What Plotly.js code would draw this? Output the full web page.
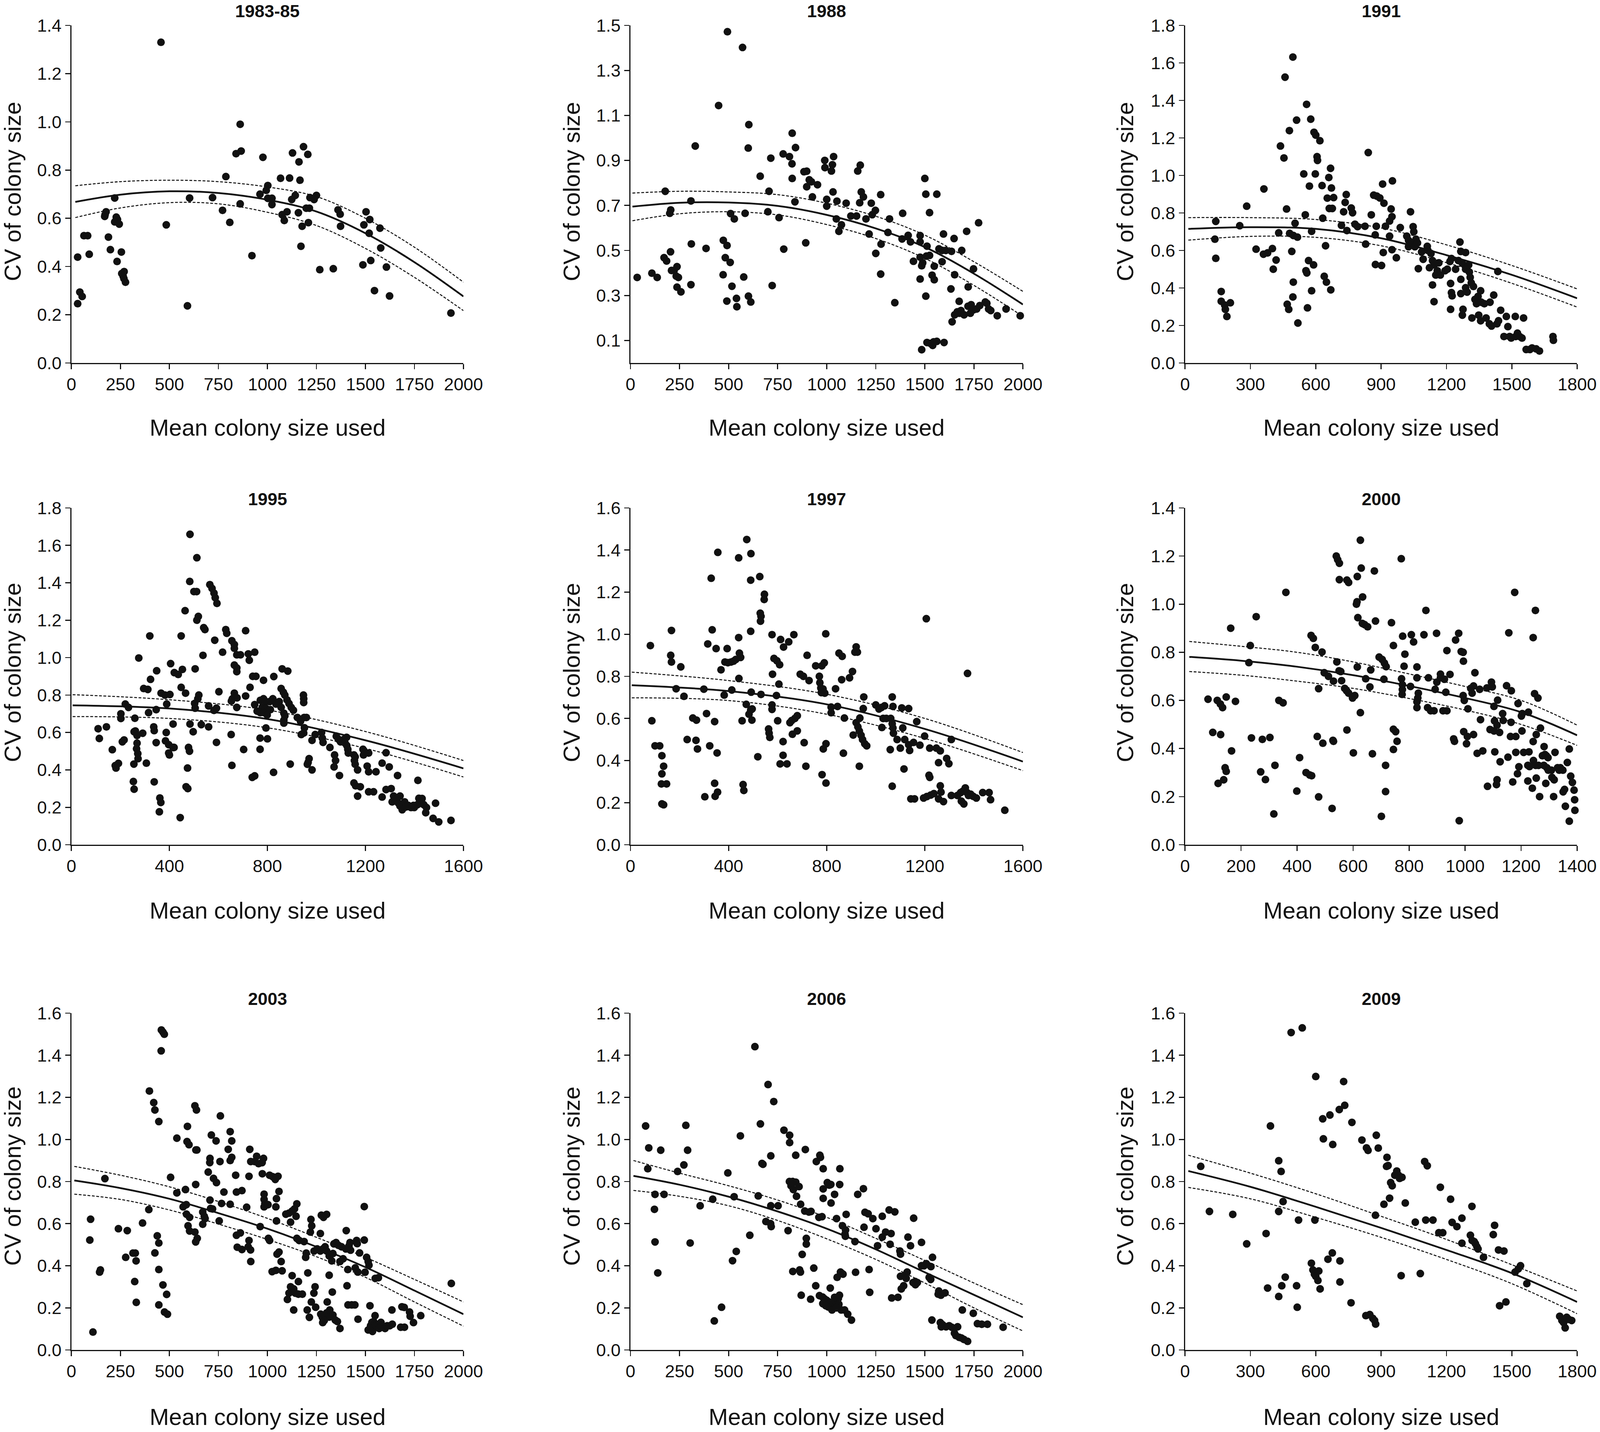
<!DOCTYPE html>
<html>
<head>
<meta charset="utf-8">
<script src="https://cdn.plot.ly/plotly-3.0.1.min.js"></script>
<style>
  html, body { margin: 0; padding: 0; background: #fff; overflow: hidden; }
</style>
</head>
<body>
<div id="graph"></div>
<script>
// CV of colony size vs mean colony size, one panel per survey year.

const years = ["1983-85", "1988", "1991", "1995", "1997", "2000", "2003", "2006", "2009"];

// ---- 1983-85 ----
const x1983 = [457,861,840,866,977,788,1184,1206,1128,1161,1166,1067,1113,1002,994,962,1002,1023,1023,1142,1124,1217,1250,1238,1198,1214,1158,1100,1075,1086,1177,1209,1171,861,771,808,720,603,484,592,921,1360,1371,1373,1267,1336,1503,1522,1492,1519,1574,1578,1487,1527,1607,1546,1623,1936,221,172,177,170,189,199,229,235,221,244,255,233,257,269,264,276,268,64,83,32,91,43,55,32];
const cv1983 = [1.33,0.99,0.868,0.879,0.853,0.773,0.897,0.865,0.871,0.834,0.758,0.766,0.767,0.736,0.716,0.70,0.683,0.683,0.657,0.695,0.678,0.686,0.695,0.678,0.642,0.642,0.623,0.627,0.615,0.591,0.567,0.582,0.484,0.66,0.633,0.583,0.686,0.684,0.573,0.237,0.445,0.635,0.617,0.567,0.387,0.391,0.627,0.595,0.573,0.538,0.559,0.477,0.407,0.425,0.398,0.30,0.278,0.207,0.684,0.615,0.627,0.608,0.522,0.47,0.605,0.595,0.585,0.576,0.46,0.421,0.371,0.379,0.36,0.335,0.35,0.528,0.528,0.439,0.451,0.294,0.276,0.246];
const fitX1983 = [20,250,500,750,1000,1250,1500,1750,2000];
const fitMid1983 = [0.668,0.698,0.712,0.705,0.677,0.628,0.538,0.418,0.276];
const fitUp1983 = [0.735,0.752,0.758,0.752,0.73,0.69,0.60,0.48,0.335];
const fitLo1983 = [0.603,0.643,0.665,0.66,0.625,0.57,0.475,0.355,0.217];

// ---- 1988 ----
const x1988 = [494,571,449,603,600,330,824,841,778,810,823,715,661,824,884,898,911,922,953,898,927,838,706,700,757,584,510,529,308,177,205,200,34,109,136,171,184,204,209,222,237,233,244,237,257,308,310,385,473,492,483,508,472,517,491,540,542,577,601,613,722,781,893,991,990,1029,1024,1035,1032,1000,1000,1052,1099,1049,1075,1062,1158,1171,1168,1176,1187,1123,1152,1200,1227,1248,1232,1275,1216,1320,1312,1277,1250,1275,1347,1387,1384,1415,1427,1442,1476,1476,1500,1505,1524,1561,1511,1476,1489,1484,1508,1524,1476,1505,1548,1537,1548,1572,1588,1607,1595,1588,1636,1649,1652,1633,1688,1713,1721,1748,1774,1675,1639,1652,1665,1684,1700,1720,1736,1748,1764,1780,1732,1676,1808,1816,1825,1836,1869,1914,1986,1484,1511,1529,1540,1561,1545,1598];
const cv1988 = [1.472,1.402,1.144,1.059,0.955,0.964,1.021,0.957,0.929,0.917,0.885,0.91,0.83,0.82,0.85,0.852,0.814,0.805,0.792,0.783,0.738,0.716,0.763,0.672,0.646,0.665,0.664,0.64,0.72,0.763,0.68,0.665,0.38,0.399,0.38,0.468,0.453,0.494,0.411,0.411,0.428,0.386,0.38,0.337,0.316,0.348,0.529,0.509,0.545,0.522,0.468,0.447,0.392,0.341,0.275,0.287,0.25,0.382,0.297,0.271,0.344,0.506,0.534,0.868,0.9,0.881,0.853,0.917,0.76,0.727,0.697,0.719,0.71,0.64,0.614,0.585,0.853,0.879,0.712,0.76,0.738,0.653,0.653,0.64,0.71,0.678,0.659,0.748,0.573,0.64,0.58,0.528,0.487,0.395,0.268,0.665,0.551,0.567,0.538,0.452,0.566,0.538,0.82,0.75,0.668,0.75,0.519,0.47,0.445,0.432,0.475,0.478,0.373,0.297,0.43,0.39,0.37,0.507,0.5,0.5,0.573,0.45,0.496,0.553,0.392,0.329,0.5,0.585,0.338,0.418,0.623,0.274,0.183,0.214,0.227,0.233,0.214,0.252,0.259,0.236,0.24,0.255,0.221,0.221,0.271,0.265,0.24,0.233,0.21,0.24,0.21,0.059,0.091,0.087,0.078,0.096,0.094,0.091];
const fitX1988 = [10,250,500,750,1000,1250,1500,1750,2000];
const fitMid1988 = [0.695,0.712,0.713,0.698,0.658,0.598,0.515,0.397,0.26];
const fitUp1988 = [0.755,0.763,0.76,0.748,0.71,0.652,0.568,0.45,0.318];
const fitLo1988 = [0.632,0.663,0.672,0.658,0.615,0.553,0.465,0.345,0.207];

// ---- 1991 ----
const x1991 = [495,459,558,512,577,479,592,600,619,438,454,841,606,608,668,545,598,660,571,629,672,907,952,362,283,653,682,662,676,740,735,728,763,769,866,880,894,913,466,552,855,946,950,939,1035,141,251,505,632,718,743,780,792,826,878,920,988,1047,1050,430,480,497,516,581,137,939,1018,1026,1026,1037,1055,1060,1067,829,873,645,141,326,360,379,401,418,405,490,910,950,970,555,559,567,590,497,639,649,669,581,495,469,476,562,518,166,166,182,185,192,208,874,902,1086,1093,1071,1112,1115,1129,1136,1143,1122,1136,1143,1158,1165,1151,1172,1194,1204,1216,1223,1219,1223,1226,1219,1242,1262,1266,1255,1273,1288,1266,1266,1276,1273,1288,1295,1302,1305,1309,1314,1288,1317,1324,1331,1338,1345,1357,1360,1348,1357,1374,1400,1417,1382,1397,1407,1436,1432,1439,1449,1464,1475,1482,1490,1497,1516,1518,1526,1536,1547,1554,1566,1583,1593,1612,1627,1689,1691];
const cv1991 = [1.631,1.524,1.379,1.295,1.30,1.239,1.23,1.215,1.185,1.157,1.093,1.122,1.10,1.08,1.038,1.008,1.008,0.989,0.943,0.946,0.933,0.954,0.971,0.928,0.836,0.879,0.882,0.824,0.824,0.898,0.856,0.806,0.826,0.801,0.895,0.89,0.88,0.852,0.821,0.79,0.79,0.821,0.78,0.757,0.806,0.755,0.732,0.745,0.772,0.734,0.706,0.74,0.727,0.729,0.729,0.729,0.722,0.727,0.70,0.694,0.691,0.68,0.671,0.702,0.66,0.676,0.676,0.654,0.62,0.64,0.62,0.66,0.64,0.634,0.683,0.625,0.558,0.607,0.58,0.587,0.61,0.549,0.50,0.595,0.589,0.604,0.561,0.492,0.48,0.546,0.523,0.431,0.462,0.431,0.39,0.385,0.352,0.313,0.286,0.294,0.213,0.381,0.329,0.309,0.286,0.248,0.321,0.525,0.52,0.592,0.553,0.503,0.622,0.60,0.584,0.546,0.523,0.508,0.416,0.327,0.492,0.534,0.469,0.469,0.492,0.50,0.541,0.557,0.424,0.375,0.358,0.286,0.50,0.645,0.595,0.546,0.531,0.589,0.446,0.37,0.286,0.255,0.401,0.378,0.523,0.485,0.457,0.427,0.50,0.24,0.408,0.339,0.316,0.355,0.385,0.324,0.255,0.225,0.316,0.324,0.362,0.24,0.209,0.197,0.488,0.209,0.225,0.281,0.141,0.248,0.194,0.141,0.133,0.248,0.141,0.159,0.141,0.133,0.24,0.072,0.072,0.08,0.075,0.064,0.141,0.121];
const fitX1991 = [15,300,600,900,1200,1500,1800];
const fitMid1991 = [0.715,0.724,0.715,0.665,0.575,0.47,0.345];
const fitUp1991 = [0.775,0.775,0.765,0.72,0.63,0.52,0.395];
const fitLo1991 = [0.655,0.675,0.67,0.625,0.535,0.425,0.298];

// ---- 1995 ----
const x1995 = [484,512,483,500,511,565,574,582,587,594,464,518,512,540,545,448,320,585,630,634,655,665,665,711,617,537,748,722,690,675,665,675,675,726,275,405,420,436,453,505,348,323,740,753,826,860,883,784,295,312,448,466,520,516,503,505,602,729,665,657,676,711,653,366,382,402,389,346,315,220,233,202,202,560,592,582,675,748,771,784,794,809,822,835,779,794,797,812,758,771,786,799,856,865,871,880,888,897,906,848,856,867,871,867,867,947,948,948,950,959,922,935,951,948,938,215,208,109,114,143,167,179,192,182,259,256,261,268,268,266,271,272,291,255,253,256,306,336,338,346,338,361,365,359,387,384,397,397,400,415,419,415,444,478,482,474,468,475,484,497,530,560,592,652,655,703,738,748,770,770,800,794,825,893,970,966,963,982,982,995,1021,1024,1027,1055,1074,1078,1072,1094,1081,1089,1098,1114,1117,1123,1124,1128,1130,1153,1158,1155,1158,1168,1153,1160,1168,1179,1190,1197,1192,1213,1207,1213,1213,1233,1243,1268,1284,1297,1268,1284,1305,1309,1331,1315,1325,1335,1341,1350,1341,1360,1366,1386,1399,1412,1425,1438,1449,1418,1431,1396,1375,1414,1446,1476,1486,1499,1549];
const cv1995 = [1.659,1.534,1.407,1.353,1.353,1.39,1.37,1.345,1.32,1.29,1.251,1.22,1.20,1.16,1.15,1.116,1.116,1.093,1.15,1.13,1.09,1.07,1.05,1.144,1.029,1.012,1.029,1.02,1.015,1.015,0.96,0.945,0.925,0.986,0.998,0.968,0.92,0.91,0.937,0.94,0.93,0.884,0.90,0.90,0.899,0.94,0.928,0.879,0.835,0.83,0.841,0.81,0.8,0.78,0.755,0.73,0.818,0.841,0.81,0.78,0.785,0.795,0.768,0.81,0.80,0.803,0.752,0.722,0.706,0.752,0.734,0.70,0.675,0.742,0.73,0.718,0.734,0.749,0.772,0.78,0.765,0.765,0.78,0.752,0.735,0.728,0.714,0.722,0.714,0.706,0.706,0.694,0.835,0.815,0.8,0.774,0.755,0.734,0.719,0.765,0.734,0.703,0.688,0.665,0.65,0.80,0.78,0.76,0.68,0.68,0.68,0.66,0.625,0.597,0.589,0.56,0.55,0.62,0.568,0.63,0.508,0.423,0.435,0.41,0.676,0.604,0.608,0.584,0.543,0.513,0.487,0.46,0.596,0.431,0.338,0.297,0.436,0.63,0.61,0.546,0.336,0.25,0.226,0.176,0.60,0.555,0.535,0.49,0.48,0.52,0.52,0.645,0.145,0.52,0.50,0.41,0.31,0.30,0.645,0.604,0.642,0.63,0.547,0.589,0.424,0.509,0.36,0.368,0.57,0.51,0.566,0.624,0.387,0.431,0.46,0.44,0.43,0.40,0.558,0.589,0.60,0.57,0.547,0.52,0.48,0.45,0.416,0.37,0.58,0.565,0.55,0.565,0.543,0.574,0.53,0.51,0.49,0.48,0.47,0.45,0.43,0.40,0.33,0.315,0.26,0.31,0.51,0.497,0.48,0.49,0.42,0.39,0.283,0.283,0.39,0.436,0.492,0.416,0.255,0.295,0.30,0.229,0.37,0.26,0.245,0.222,0.207,0.187,0.26,0.229,0.202,0.199,0.199,0.214,0.222,0.214,0.199,0.248,0.247,0.21,0.21,0.344,0.171,0.141,0.222,0.122,0.13];
const fitX1995 = [5,400,800,1200,1600];
const fitMid1995 = [0.745,0.728,0.672,0.558,0.408];
const fitUp1995 = [0.802,0.775,0.72,0.605,0.45];
const fitLo1995 = [0.685,0.675,0.625,0.515,0.362];

// ---- 1997 ----
const x1997 = [474,356,441,491,329,490,527,546,545,529,532,530,167,333,490,81,315,349,394,441,444,449,577,612,624,666,645,796,1206,164,167,205,385,397,410,420,429,369,585,597,608,579,720,442,605,692,705,728,755,780,790,770,772,776,778,785,792,850,863,915,920,925,905,893,861,836,186,218,299,382,413,492,532,595,577,577,87,100,119,128,128,135,126,147,128,135,254,269,231,267,273,310,343,323,353,303,343,355,345,455,472,483,490,496,495,459,462,519,563,565,568,600,622,622,610,638,650,657,670,680,660,680,708,715,786,797,781,797,818,818,844,872,868,908,920,927,933,940,946,955,963,933,935,951,949,1000,1013,1023,1036,1030,1043,1025,1067,1070,1061,1067,1070,1072,1059,1067,1087,1100,1106,1134,1110,1115,1118,1134,1138,1154,1167,1180,1199,1217,1220,1220,1247,1263,1256,1308,1289,1298,1263,1266,1143,1158,1195,1208,1224,1237,1256,1276,1308,1333,1346,1356,1365,1372,1359,1349,1378,1387,1397,1410,1374,1436,1462,1468,1526];
const cv1997 = [1.45,1.389,1.363,1.383,1.266,1.257,1.274,1.19,1.165,1.10,1.085,1.062,1.018,1.021,1.014,0.946,0.954,0.932,0.932,0.984,0.91,0.89,0.998,0.975,0.939,0.998,0.964,1.002,1.074,0.90,0.868,0.845,0.868,0.865,0.868,0.872,0.88,0.831,0.885,0.874,0.855,0.81,0.90,0.79,0.763,0.81,0.80,0.78,0.85,0.85,0.864,0.80,0.77,0.745,0.723,0.74,0.72,0.91,0.895,0.915,0.94,0.915,0.823,0.793,0.784,0.741,0.741,0.705,0.739,0.711,0.735,0.725,0.714,0.709,0.664,0.643,0.589,0.47,0.47,0.423,0.337,0.373,0.289,0.289,0.194,0.19,0.602,0.592,0.50,0.496,0.455,0.623,0.585,0.47,0.436,0.228,0.292,0.25,0.23,0.589,0.667,0.62,0.64,0.645,0.592,0.286,0.258,0.418,0.55,0.53,0.51,0.589,0.49,0.425,0.384,0.384,0.58,0.59,0.60,0.613,0.525,0.541,0.485,0.373,0.455,0.48,0.333,0.293,0.654,0.627,0.657,0.602,0.435,0.521,0.58,0.56,0.54,0.52,0.50,0.48,0.47,0.373,0.602,0.702,0.647,0.664,0.645,0.652,0.66,0.60,0.60,0.557,0.702,0.657,0.60,0.575,0.555,0.53,0.452,0.278,0.50,0.459,0.65,0.647,0.555,0.36,0.50,0.475,0.448,0.486,0.585,0.473,0.516,0.33,0.32,0.459,0.459,0.446,0.39,0.50,0.41,0.385,0.28,0.25,0.218,0.218,0.222,0.229,0.236,0.243,0.218,0.205,0.234,0.234,0.248,0.255,0.27,0.248,0.194,0.207,0.234,0.24,0.23,0.222,0.814,0.248,0.248,0.214,0.164];
const fitX1997 = [5,400,800,1200,1600];
const fitMid1997 = [0.758,0.73,0.667,0.55,0.395];
const fitUp1997 = [0.82,0.78,0.715,0.6,0.438];
const fitLo1997 = [0.698,0.685,0.62,0.505,0.352];

// ---- 2000 ----
const x2000 = [626,540,545,551,772,615,629,676,551,578,584,360,1177,612,614,634,860,1251,617,633,641,652,680,737,254,163,450,458,465,489,233,777,808,816,853,898,977,966,986,993,935,994,1156,1243,744,785,228,542,615,693,704,712,718,663,782,828,1035,912,497,512,530,550,556,559,570,577,584,477,598,606,660,645,710,773,776,776,775,805,828,833,831,828,828,869,866,877,889,893,899,912,926,931,921,935,946,993,997,1010,1020,1025,1030,1052,1055,1078,1094,1097,1116,1103,1105,1114,1089,1103,1123,1134,1148,1165,1136,1162,1164,1189,1201,1203,1204,1226,1260,1248,1243,1254,1269,1228,1224,1230,1244,1252,1262,1276,1285,1281,1292,1297,1308,1282,1290,1296,1310,1318,1321,1330,1336,1340,1349,1365,1372,1377,1383,1389,1391,1392,1372,1358,1355,1350,1316,1288,1266,1254,1240,1224,1192,1181,1170,1187,1114,1112,1080,1106,1125,1063,1043,959,962,995,1008,1005,1030,979,1153,1181,1209,82,115,126,134,147,180,99,127,166,118,138,143,147,237,276,303,270,287,317,321,335,350,399,409,432,445,452,472,492,477,525,528,530,578,601,626,669,701,716,716,744,752,757,744];
const cv2000 = [1.266,1.20,1.185,1.17,1.189,1.115,1.15,1.138,1.102,1.10,1.09,1.049,1.049,1.00,1.01,1.03,0.974,0.974,0.944,0.92,0.915,0.906,0.93,0.923,0.948,0.90,0.87,0.858,0.82,0.801,0.828,0.867,0.873,0.843,0.873,0.879,0.879,0.851,0.803,0.80,0.807,0.763,0.881,0.861,0.828,0.792,0.757,0.76,0.739,0.78,0.77,0.755,0.74,0.727,0.742,0.739,0.715,0.709,0.715,0.70,0.68,0.723,0.72,0.682,0.65,0.64,0.63,0.649,0.61,0.62,0.656,0.69,0.688,0.69,0.665,0.645,0.625,0.658,0.694,0.63,0.61,0.594,0.57,0.694,0.57,0.557,0.557,0.646,0.676,0.694,0.688,0.634,0.557,0.557,0.708,0.62,0.60,0.565,0.65,0.63,0.66,0.646,0.52,0.652,0.676,0.656,0.601,0.575,0.515,0.497,0.479,0.473,0.467,0.545,0.661,0.64,0.517,0.45,0.509,0.587,0.535,0.473,0.545,0.551,0.61,0.628,0.429,0.458,0.485,0.386,0.33,0.325,0.35,0.33,0.33,0.37,0.375,0.33,0.32,0.31,0.31,0.408,0.37,0.362,0.28,0.27,0.384,0.32,0.31,0.32,0.31,0.342,0.398,0.285,0.259,0.227,0.187,0.143,0.098,0.16,0.23,0.22,0.20,0.255,0.20,0.277,0.235,0.265,0.324,0.384,0.261,0.295,0.27,0.25,0.243,0.386,0.345,0.39,0.38,0.44,0.43,0.47,0.45,0.42,0.458,0.10,0.364,0.45,0.384,0.605,0.60,0.585,0.57,0.614,0.596,0.467,0.458,0.39,0.255,0.27,0.32,0.305,0.444,0.438,0.446,0.303,0.271,0.128,0.33,0.60,0.59,0.223,0.362,0.30,0.29,0.287,0.45,0.422,0.199,0.151,0.434,0.43,0.477,0.382,0.549,0.378,0.118,0.33,0.221,0.48,0.47,0.43,0.396];
const fitX2000 = [15,200,400,600,800,1000,1200,1400];
const fitMid2000 = [0.781,0.765,0.74,0.705,0.66,0.61,0.551,0.455];
const fitUp2000 = [0.845,0.825,0.80,0.76,0.71,0.658,0.60,0.497];
const fitLo2000 = [0.72,0.705,0.68,0.65,0.608,0.56,0.50,0.413];

// ---- 2003 ----
const x2003 = [459,467,474,458,398,420,426,446,630,638,760,592,590,600,538,635,640,714,738,810,818,800,818,810,707,706,758,910,945,935,955,980,973,915,506,171,634,698,725,740,838,906,974,1011,1027,1040,1054,538,582,778,842,870,1059,1046,983,983,987,983,1000,1003,707,720,710,766,810,894,1043,1150,1126,1138,1110,1094,1146,1118,1046,570,586,587,603,595,603,630,642,634,670,678,682,670,754,395,363,240,285,277,314,326,330,323,331,98,94,144,148,110,438,446,426,446,446,467,486,475,490,842,862,846,870,906,902,914,915,963,1005,1011,1049,1059,1024,1043,1070,1075,1102,1110,1118,1134,1142,1158,1178,1126,1134,1158,1187,1150,1162,1198,1195,1219,1226,1222,1206,1203,1214,1224,1237,1243,1246,1272,1280,1238,1254,1270,1283,1294,1302,1270,1275,1286,1302,1315,1305,1318,1302,1315,1334,1346,1357,1290,1282,1315,1331,1339,1350,1362,1378,1328,1334,1370,1370,1386,1400,1416,1424,1421,1402,1410,1406,1411,1430,1446,1455,1458,1448,1461,1470,1462,1494,1494,1506,1514,1498,1518,1523,1550,1566,1514,1526,1533,1542,1549,1536,1552,1568,1579,1592,1600,1611,1624,1637,1570,1635,1680,1699,1686,1698,1725,1728,1745,1782,1938];
const cv2003 = [1.52,1.51,1.50,1.421,1.23,1.175,1.14,1.085,1.16,1.14,1.112,1.062,0.99,0.975,1.006,0.95,0.95,1.021,0.993,1.037,0.993,0.953,0.915,0.90,0.91,0.89,0.895,0.953,0.92,0.895,0.885,0.91,0.89,0.895,0.82,0.814,0.786,0.845,0.815,0.795,0.83,0.825,0.837,0.83,0.823,0.81,0.825,0.746,0.762,0.75,0.75,0.757,0.753,0.719,0.74,0.715,0.695,0.68,0.69,0.69,0.712,0.67,0.672,0.696,0.692,0.678,0.68,0.694,0.66,0.67,0.65,0.645,0.635,0.607,0.613,0.68,0.69,0.645,0.63,0.59,0.565,0.56,0.53,0.513,0.655,0.635,0.624,0.597,0.613,0.667,0.603,0.576,0.567,0.44,0.46,0.46,0.423,0.325,0.226,0.621,0.522,0.37,0.38,0.085,0.542,0.508,0.461,0.382,0.214,0.309,0.264,0.18,0.17,0.545,0.556,0.488,0.477,0.52,0.49,0.475,0.42,0.586,0.53,0.52,0.455,0.465,0.372,0.378,0.42,0.376,0.24,0.27,0.30,0.29,0.27,0.265,0.265,0.353,0.19,0.325,0.515,0.53,0.52,0.46,0.44,0.56,0.59,0.62,0.366,0.19,0.155,0.228,0.27,0.30,0.203,0.17,0.155,0.47,0.48,0.47,0.48,0.49,0.47,0.553,0.64,0.63,0.644,0.447,0.228,0.19,0.176,0.156,0.166,0.142,0.135,0.14,0.13,0.355,0.275,0.504,0.51,0.497,0.49,0.423,0.458,0.102,0.42,0.433,0.48,0.494,0.474,0.51,0.567,0.382,0.305,0.214,0.214,0.214,0.52,0.505,0.39,0.37,0.461,0.146,0.522,0.681,0.44,0.42,0.369,0.403,0.21,0.34,0.343,0.095,0.115,0.131,0.135,0.163,0.088,0.115,0.122,0.131,0.111,0.102,0.115,0.115,0.122,0.102,0.19,0.108,0.108,0.205,0.202,0.18,0.16,0.13,0.163,0.316];
const fitX2003 = [15,250,500,750,1000,1250,1500,1750,2000];
const fitMid2003 = [0.805,0.769,0.718,0.65,0.576,0.49,0.393,0.282,0.17];
const fitUp2003 = [0.872,0.83,0.775,0.705,0.625,0.535,0.44,0.335,0.228];
const fitLo2003 = [0.74,0.715,0.665,0.598,0.525,0.443,0.345,0.228,0.113];

// ---- 2006 ----
const x2006 = [634,701,730,662,77,282,782,811,811,560,93,154,291,715,842,891,965,968,947,670,675,272,88,982,1067,496,240,810,826,842,818,830,846,859,1003,1013,1021,982,982,1066,1040,1022,1158,1187,125,171,651,528,419,355,122,715,752,867,888,909,920,960,976,1050,1099,1195,1211,1235,1190,1251,1283,1318,1347,690,714,717,608,803,1080,1096,1093,1095,1300,1328,1283,1259,1323,1144,896,896,1376,1373,1414,1427,1443,1483,1483,1496,1507,1539,1531,1522,1530,1571,1582,1568,1603,1536,1579,1584,1590,1608,1624,1637,1651,1658,1667,1675,1686,1699,1718,1691,1747,1768,1790,1819,1899,1410,1398,1405,1376,1392,1380,1363,1331,1440,1451,1462,1452,1219,1216,1147,875,862,866,827,870,934,944,918,963,979,987,998,1008,1019,1030,1043,1008,1027,1046,1059,1062,1074,980,995,1050,1040,1065,1018,1070,1075,1083,1053,1091,1107,1126,304,427,464,520,539,125,139];
const cv2006 = [1.441,1.261,1.18,1.074,1.064,1.067,1.044,1.02,0.985,1.017,0.96,0.949,0.949,0.922,0.925,0.952,0.925,0.915,0.895,0.886,0.882,0.879,0.861,0.861,0.861,0.841,0.848,0.80,0.80,0.797,0.78,0.762,0.73,0.776,0.795,0.783,0.786,0.765,0.72,0.786,0.739,0.698,0.739,0.766,0.739,0.739,0.732,0.728,0.716,0.685,0.668,0.685,0.685,0.692,0.66,0.655,0.658,0.63,0.633,0.624,0.644,0.654,0.647,0.624,0.583,0.576,0.635,0.665,0.656,0.61,0.60,0.586,0.545,0.567,0.59,0.57,0.55,0.54,0.56,0.553,0.536,0.495,0.502,0.515,0.53,0.503,0.455,0.47,0.536,0.495,0.626,0.511,0.40,0.40,0.41,0.44,0.396,0.345,0.335,0.28,0.26,0.265,0.271,0.142,0.13,0.11,0.12,0.11,0.115,0.108,0.08,0.068,0.11,0.06,0.057,0.05,0.041,0.19,0.174,0.125,0.122,0.122,0.108,0.37,0.355,0.34,0.35,0.305,0.29,0.25,0.247,0.32,0.325,0.32,0.31,0.274,0.382,0.369,0.454,0.38,0.37,0.373,0.26,0.389,0.305,0.241,0.258,0.251,0.244,0.237,0.23,0.224,0.21,0.204,0.204,0.19,0.231,0.244,0.217,0.19,0.22,0.21,0.20,0.25,0.26,0.294,0.37,0.365,0.36,0.345,0.19,0.17,0.142,0.508,0.138,0.203,0.424,0.468,0.513,0.366];
const fitX2006 = [15,250,500,750,1000,1250,1500,1750,2000];
const fitMid2006 = [0.827,0.785,0.728,0.658,0.576,0.478,0.369,0.262,0.155];
const fitUp2006 = [0.9,0.84,0.78,0.712,0.63,0.53,0.425,0.318,0.215];
const fitLo2006 = [0.758,0.73,0.685,0.615,0.528,0.43,0.318,0.2,0.09];

// ---- 2009 ----
const x2009 = [538,487,600,728,733,708,665,632,766,392,635,678,878,812,833,840,887,72,430,441,927,925,932,944,951,963,972,980,985,996,1100,1112,1172,913,939,1011,1219,1317,112,219,430,450,521,596,874,1057,1105,1138,1165,1183,1226,1248,1271,1271,1310,1318,1327,1333,1340,1345,1370,1421,1415,1439,1464,372,283,379,430,444,460,512,515,580,587,594,600,610,614,620,656,676,711,711,762,830,848,862,870,875,992,1080,1444,1473,1515,1530,1540,1569,1720,1730,1738,1745,1752,1762,1775];
const cv2009 = [1.53,1.508,1.299,1.275,1.162,1.142,1.116,1.098,1.081,1.064,1.003,0.976,1.02,0.997,0.96,0.948,0.959,0.872,0.899,0.848,0.915,0.872,0.876,0.795,0.78,0.83,0.85,0.83,0.815,0.82,0.895,0.875,0.773,0.692,0.721,0.698,0.716,0.682,0.658,0.644,0.658,0.705,0.617,0.617,0.64,0.607,0.617,0.617,0.557,0.557,0.606,0.586,0.626,0.507,0.545,0.52,0.515,0.505,0.49,0.48,0.44,0.592,0.548,0.475,0.47,0.553,0.504,0.294,0.254,0.305,0.346,0.305,0.203,0.412,0.38,0.36,0.35,0.33,0.375,0.29,0.431,0.461,0.423,0.323,0.224,0.163,0.168,0.15,0.14,0.123,0.353,0.363,0.21,0.228,0.37,0.385,0.40,0.315,0.16,0.14,0.13,0.105,0.155,0.145,0.14];
const fitX2009 = [15,300,600,900,1200,1500,1800];
const fitMid2009 = [0.85,0.775,0.68,0.58,0.475,0.365,0.228];
const fitUp2009 = [0.925,0.84,0.742,0.635,0.525,0.405,0.28];
const fitLo2009 = [0.772,0.718,0.63,0.535,0.43,0.315,0.172];

// axis ranges and tick steps per panel
const xMax = [2000, 2000, 1800, 1600, 1600, 1400, 2000, 2000, 1800];
const xStep = [250, 250, 300, 400, 400, 200, 250, 250, 300];
const yMax = [1.4, 1.5, 1.8, 1.8, 1.6, 1.4, 1.6, 1.6, 1.6];

const panels = [
  [x1983, cv1983, fitX1983, fitMid1983, fitUp1983, fitLo1983],
  [x1988, cv1988, fitX1988, fitMid1988, fitUp1988, fitLo1988],
  [x1991, cv1991, fitX1991, fitMid1991, fitUp1991, fitLo1991],
  [x1995, cv1995, fitX1995, fitMid1995, fitUp1995, fitLo1995],
  [x1997, cv1997, fitX1997, fitMid1997, fitUp1997, fitLo1997],
  [x2000, cv2000, fitX2000, fitMid2000, fitUp2000, fitLo2000],
  [x2003, cv2003, fitX2003, fitMid2003, fitUp2003, fitLo2003],
  [x2006, cv2006, fitX2006, fitMid2006, fitUp2006, fitLo2006],
  [x2009, cv2009, fitX2009, fitMid2009, fitUp2009, fitLo2009],
];

// design grid, in pixels of a 4550 x 3665 canvas
const BW = 4550, BH = 3665;
const colPx = [[203, 1318], [1793, 2909], [3370, 4485]];
const rowPx = [[65, 929], [1300, 2162], [2593, 3455]];
const titleY = [29, 1278, 2556];
const xTitleY = [1094, 2330, 3626];
const yTitleX = [36, 1625, 3199];
const yTitleY = [490, 1721, 3010];

// fit whatever viewport we get
const W = window.innerWidth || BW;
const H = window.innerHeight || BH;
const s = Math.min(W / BW, H / BH);
const gd = document.getElementById("graph");
gd.style.width = W + "px";
gd.style.height = H + "px";

const font = "Liberation Sans, Arial, Helvetica, sans-serif";
const ink = "#111111";

const traces = [];
const layout = {
  width: W,
  height: H,
  margin: { l: 0, r: 0, t: 0, b: 0 },
  paper_bgcolor: "#ffffff",
  plot_bgcolor: "#ffffff",
  showlegend: false,
  font: { family: font, color: ink, size: 50 * s },
  annotations: [],
};

panels.forEach((p, i) => {
  const col = i % 3, row = Math.floor(i / 3);
  const n = i + 1;
  const xa = "x" + (n === 1 ? "" : n), ya = "y" + (n === 1 ? "" : n);
  const [px, py, fx, fMid, fUp, fLo] = p;

  traces.push({
    x: px, y: py, xaxis: xa, yaxis: ya,
    type: "scatter", mode: "markers", cliponaxis: false,
    marker: { color: ink, size: 22 * s, line: { width: 0 } },
  });
  [[fUp, 2.8, "dash"], [fLo, 2.8, "dash"], [fMid, 5, "solid"]].forEach(([fy, w, dash]) => {
    traces.push({
      x: fx, y: fy, xaxis: xa, yaxis: ya,
      type: "scatter", mode: "lines",
      line: { color: ink, width: w * s, dash: dash === "dash" ? (8 * s) + "px," + (4.5 * s) + "px" : dash, shape: "spline" },
    });
  });

  const yTicks = [];
  if (i === 1) {
    for (let v = 0.1; v <= 1.5001; v += 0.2) yTicks.push(+v.toFixed(1));
  } else {
    for (let v = 0; v <= yMax[i] + 1e-6; v += 0.2) yTicks.push(+v.toFixed(1));
  }
  const axisStyle = {
    showline: true, linecolor: ink, linewidth: 3 * s,
    ticks: "outside", ticklen: 15 * s, tickwidth: 3 * s, tickcolor: ink,
    showgrid: false, zeroline: false,
    tickfont: { family: font, size: 50 * s, color: ink },
    fixedrange: true,
  };
  layout["xaxis" + (n === 1 ? "" : n)] = Object.assign({}, axisStyle, {
    domain: [colPx[col][0] / BW, colPx[col][1] / BW],
    anchor: ya, range: [0, xMax[i]],
    tickmode: "linear", tick0: 0, dtick: xStep[i],
  });
  layout["yaxis" + (n === 1 ? "" : n)] = Object.assign({}, axisStyle, {
    domain: [1 - rowPx[row][1] / BH, 1 - rowPx[row][0] / BH],
    anchor: xa, range: [0, yMax[i]],
    tickmode: "array", tickvals: yTicks, tickformat: ".1f",
  });

  const cx = (colPx[col][0] + colPx[col][1]) / 2 / BW;
  layout.annotations.push({
    text: "<b>" + years[i] + "</b>", xref: "paper", yref: "paper",
    x: cx, y: 1 - titleY[row] / BH, xanchor: "center", yanchor: "middle",
    showarrow: false, font: { family: font, size: 50 * s, color: ink },
  });
  layout.annotations.push({
    text: "Mean colony size used", xref: "paper", yref: "paper",
    x: cx, y: 1 - xTitleY[row] / BH, xanchor: "center", yanchor: "middle",
    showarrow: false, font: { family: font, size: 66 * s, color: ink },
  });
  layout.annotations.push({
    text: "CV of colony size", xref: "paper", yref: "paper", textangle: -90,
    x: yTitleX[col] / BW, y: 1 - yTitleY[row] / BH, xanchor: "center", yanchor: "middle",
    showarrow: false, font: { family: font, size: 66 * s, color: ink },
  });
});

Plotly.newPlot(gd, traces, layout, { displayModeBar: false, staticPlot: true });
</script>
</body>
</html>
